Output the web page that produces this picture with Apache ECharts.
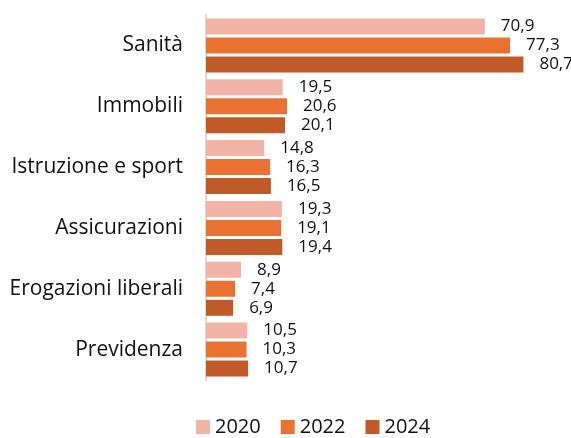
<!DOCTYPE html>
<html>
<head>
<meta charset="utf-8">
<script src="https://cdn.jsdelivr.net/npm/echarts@6/dist/echarts.min.js"></script>
<style>
  html, body { margin: 0; padding: 0; background: #fff; }
  #chart { width: 571px; height: 438px; }
</style>
</head>
<body>
<div id="chart"></div>
<script>
const categories = ['Sanità', 'Immobili', 'Istruzione e sport', 'Assicurazioni', 'Erogazioni liberali', 'Previdenza']
const years = ['2020', '2022', '2024']
const values2020 = [70.9, 19.5, 14.8, 19.3, 8.9, 10.5]
const values2022 = [77.3, 20.6, 16.3, 19.1, 7.4, 10.3]
const values2024 = [80.7, 20.1, 16.5, 19.4, 6.9, 10.7]
const colors = ['#F2B4A6', '#E97132', '#C05A28']

const chart = echarts.init(document.getElementById('chart'))

const font = '"Open Sans", "Noto Sans", sans-serif'

function makeSeries(name, data, color) {
  return {
    name: name,
    type: 'bar',
    data: data,
    barWidth: 16,
    barGap: '19%',
    itemStyle: { color: color },
    label: {
      show: true,
      position: 'right',
      distance: 16,
      fontFamily: font,
      fontSize: 17,
      color: '#111',
      formatter: p => p.value.toFixed(1).replace('.', ',')
    }
  }
}

const option = {
  animation: false,
  color: colors,
  grid: {
    left: 206,
    right: 11,
    top: 15,
    bottom: 58
  },
  xAxis: {
    type: 'value',
    min: 0,
    max: 90,
    show: false
  },
  yAxis: {
    type: 'category',
    inverse: true,
    data: categories,
    axisLine: { show: true, lineStyle: { color: '#D9D9D9', width: 2 } },
    axisTick: { show: false },
    axisLabel: {
      margin: 23,
      fontFamily: font,
      fontSize: 21,
      color: '#111'
    }
  },
  legend: {
    data: years,
    left: 191,
    top: 412,
    itemWidth: 14,
    itemHeight: 14,
    itemGap: 20,
    icon: 'rect',
    textStyle: { fontFamily: font, fontSize: 20, color: '#111' }
  },
  series: [
    makeSeries(years[0], values2020, colors[0]),
    makeSeries(years[1], values2022, colors[1]),
    makeSeries(years[2], values2024, colors[2])
  ]
}

chart.setOption(option)
window.addEventListener('resize', chart.resize)
</script>
</body>
</html>
